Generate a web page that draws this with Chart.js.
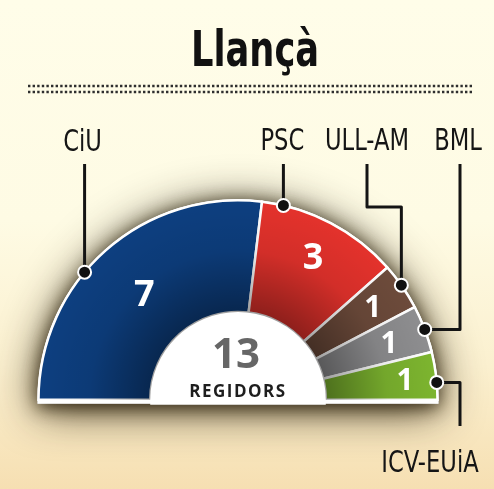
<!DOCTYPE html>
<html>
<head>
<meta charset="utf-8">
<script src="https://cdn.jsdelivr.net/npm/chart.js@4/dist/chart.umd.min.js"></script>
<style>
html,body{margin:0;padding:0;}
body{width:494px;height:489px;overflow:hidden;background:linear-gradient(180deg,#fffde9 0%,#fefbe4 45%,#fbf0cf 75%,#f6dfb2 100%);}
canvas{display:block;}
</style>
</head>
<body>
<canvas id="seatsChart" width="494" height="489"></canvas>
<script>

// -------------------------------------
// DATA
// -------------------------------------

const chartTitle = "Llançà";
const parties = ["CiU", "PSC", "ULL-AM", "BML", "ICV-EUiA"];
const seats = [7, 3, 1, 1, 1];
const partyColors = ["#0d3f80", "#e4322c", "#6d4b3b", "#8e8e90", "#7db52f"];
const totalSeats = "13";
const totalLabel = "REGIDORS";


// -------------------------------------
// DRAWING HELPERS
// -------------------------------------

const labelFont = "'Liberation Sans Narrow', 'DejaVu Sans Condensed', 'Roboto', sans-serif";

// where the leader dot sits along each slice (0 = start, 1 = end)
const dotAt = [0.41, 0.15, 0.47, 0.51, 0.64];
// how deep into the ring each number sits
const numberDepth = [0.48, 0.66, 0.68, 0.66, 0.72];

function narrowText(ctx, text, x, y, size, weight, sx){
ctx.save();
ctx.translate(x, y);
ctx.scale(sx, 1);
ctx.font = weight + " " + size + "px " + labelFont;
ctx.textAlign = "center";
ctx.textBaseline = "alphabetic";
ctx.fillText(text, 0, 0);
ctx.restore();
}

function arcPoint(arc, f, r){
const a = arc.startAngle + f * (arc.endAngle - arc.startAngle);
return {x: arc.x + r * Math.cos(a), y: arc.y + r * Math.sin(a)};
}

function polyline(ctx, pts){
ctx.beginPath();
ctx.moveTo(pts[0][0], pts[0][1]);
for (let i = 1; i < pts.length; i++) ctx.lineTo(pts[i][0], pts[i][1]);
ctx.stroke();
}


// -------------------------------------
// PLUGIN: title, shadow, centre, labels
// -------------------------------------

const hemicyclePlugin = {

id: "hemicycle",

beforeDatasetsDraw(chart){

const ctx = chart.ctx;
const arc = chart.getDatasetMeta(0).data[0];
const R = arc.outerRadius;

// title
ctx.fillStyle = "#111";
narrowText(ctx, chartTitle, 255, 66, 49, "bold", 0.8);

// dotted rule
ctx.save();
ctx.strokeStyle = "#2e2e2e";
ctx.lineWidth = 2.6;
ctx.setLineDash([2.4, 2.2]);
[86, 92].forEach(y => polyline(ctx, [[28, y], [474, y]]));
ctx.restore();

// shadow under the hemicycle
ctx.save();
ctx.shadowColor = "rgba(35,25,5,0.85)";
ctx.fillStyle = "#fff";
[[44, 6], [18, 3]].forEach(s => {
ctx.shadowBlur = s[0];
ctx.shadowOffsetY = s[1];
ctx.beginPath();
ctx.arc(arc.x, arc.y, R + 1, Math.PI, 0);
ctx.lineTo(arc.x + R + 1, arc.y + 4);
ctx.lineTo(arc.x - R - 1, arc.y + 4);
ctx.closePath();
ctx.fill();
});
ctx.restore();

},

afterDatasetsDraw(chart){

const ctx = chart.ctx;
const arcs = chart.getDatasetMeta(0).data;
const cx = arcs[0].x, cy = arcs[0].y;
const R = arcs[0].outerRadius, r0 = arcs[0].innerRadius;

// darker shading towards the middle
ctx.save();
const g = ctx.createRadialGradient(cx, cy, r0, cx, cy, R);
g.addColorStop(0, "rgba(0,0,0,0.38)");
g.addColorStop(0.55, "rgba(0,0,0,0.08)");
g.addColorStop(1, "rgba(0,0,0,0)");
ctx.fillStyle = g;
ctx.beginPath();
ctx.arc(cx, cy, R - 2, Math.PI, 0);
ctx.closePath();
ctx.fill();
ctx.restore();

// white centre
ctx.save();
ctx.fillStyle = "#ffffff";
ctx.beginPath();
ctx.arc(cx, cy, r0, Math.PI, 0);
ctx.lineTo(cx + r0, cy + 5);
ctx.lineTo(cx - r0, cy + 5);
ctx.closePath();
ctx.fill();
ctx.textAlign = "center";
ctx.textBaseline = "alphabetic";
ctx.fillStyle = "#666666";
ctx.font = "bold 42px 'Open Sans', 'DejaVu Sans', sans-serif";
ctx.fillText(totalSeats, cx - 2, cy - 32);
ctx.fillStyle = "#1e1e1e";
ctx.font = "bold 17px 'Open Sans', 'DejaVu Sans', sans-serif";
ctx.letterSpacing = "1.5px";
ctx.fillText(totalLabel, cx, cy - 3);
ctx.restore();

// seat numbers
ctx.save();
ctx.fillStyle = "#ffffff";
ctx.textAlign = "center";
ctx.textBaseline = "middle";
arcs.forEach((arc, i) => {
const depth = r0 + numberDepth[i] * (R - r0);
const p = arcPoint(arc, 0.5, depth);
const size = seats[i] > 1 ? 36 : 30;
ctx.font = "bold " + size + "px 'Open Sans', 'DejaVu Sans', sans-serif";
ctx.fillText(String(seats[i]), p.x, p.y + 2);
});
ctx.restore();

// leader lines
const d = arcs.map((arc, i) => arcPoint(arc, dotAt[i], R));
ctx.save();
ctx.strokeStyle = "#141414";
ctx.lineWidth = 3;
ctx.lineJoin = "round";
polyline(ctx, [[d[0].x, 164], [d[0].x, d[0].y]]);
polyline(ctx, [[d[1].x, 164], [d[1].x, d[1].y]]);
polyline(ctx, [[367, 164], [367, 207], [d[2].x, 207], [d[2].x, d[2].y]]);
polyline(ctx, [[460, 164], [460, d[3].y], [d[3].x, d[3].y]]);
polyline(ctx, [[d[4].x, d[4].y], [460, d[4].y], [460, 426]]);

d.forEach(p => {
ctx.beginPath();
ctx.arc(p.x, p.y, 6.5, 0, Math.PI * 2);
ctx.fillStyle = "#111";
ctx.fill();
ctx.lineWidth = 2;
ctx.strokeStyle = "#ffffff";
ctx.stroke();
});
ctx.restore();

// party names
ctx.fillStyle = "#151515";
const labelPos = [[d[0].x - 2, 151], [d[1].x - 1, 150], [367, 150], [458, 150], [430, 472]];
parties.forEach((name, i) => {
narrowText(ctx, name, labelPos[i][0], labelPos[i][1], 30, "normal", 0.84);
});

}

};


// -------------------------------------
// HEMICYCLE CHART
// -------------------------------------

const ctx = document.getElementById("seatsChart").getContext("2d");

new Chart(ctx, {

type: "doughnut",

data: {
labels: parties,
datasets: [{
data: seats,
backgroundColor: partyColors,
borderColor: "#ffffff",
borderWidth: 2.5,
borderJoinStyle: "miter"
}]
},

options: {
responsive: false,
animation: false,
rotation: -90,
circumference: 180,
cutout: "44%",
layout: {
padding: {left: 37, right: 55, top: 199, bottom: 88}
},
plugins: {
legend: {display: false},
tooltip: {enabled: false},
title: {display: false}
}
},

plugins: [hemicyclePlugin]

});

</script>
</body>
</html>
